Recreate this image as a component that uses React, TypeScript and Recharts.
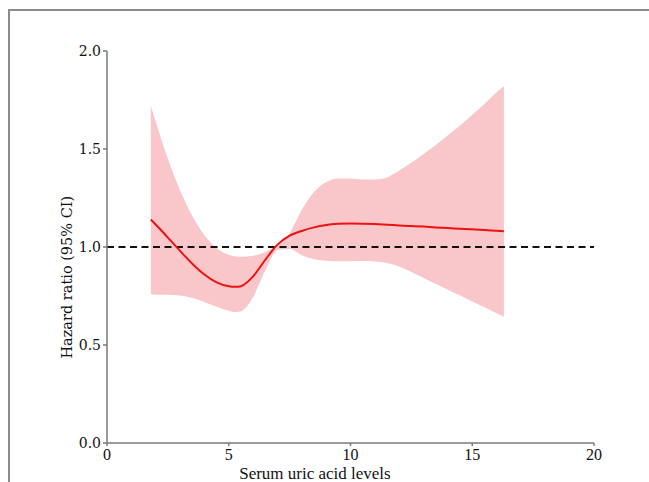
import React from "react";
import { ComposedChart, Area, Line, XAxis, YAxis, ReferenceLine } from "recharts";

const uricAcid = [1.8, 2, 2.5, 3, 3.5, 4, 4.5, 5, 5.3, 5.5, 6, 6.5, 7, 7.5, 8, 8.5, 9, 9.5, 10, 10.5, 11, 11.5, 12, 12.5, 13, 13.5, 14, 14.5, 15, 15.5, 16, 16.3];
const hazardRatio = [1.14, 1.115, 1.048, 0.98, 0.915, 0.86, 0.82, 0.8, 0.797, 0.8, 0.85, 0.935, 1.012, 1.058, 1.082, 1.1, 1.112, 1.118, 1.12, 1.119, 1.117, 1.114, 1.11, 1.107, 1.104, 1.1, 1.097, 1.093, 1.09, 1.087, 1.083, 1.08];
const ciUpper = [1.72, 1.64, 1.45, 1.29, 1.16, 1.06, 0.995, 0.96, 0.952, 0.95, 0.955, 0.975, 1.01, 1.07, 1.19, 1.28, 1.33, 1.35, 1.35, 1.345, 1.345, 1.355, 1.39, 1.43, 1.475, 1.52, 1.57, 1.62, 1.675, 1.73, 1.79, 1.82];
const ciLower = [0.76, 0.757, 0.757, 0.752, 0.74, 0.72, 0.695, 0.675, 0.668, 0.672, 0.745, 0.88, 0.985, 0.99, 0.958, 0.938, 0.93, 0.927, 0.927, 0.928, 0.926, 0.918, 0.9, 0.872, 0.842, 0.812, 0.782, 0.752, 0.722, 0.692, 0.662, 0.644];
const xTicks = [0, 5, 10, 15, 20];
const yTicks = [0, 0.5, 1, 1.5, 2];

const data = uricAcid.map((x, i) => ({
  x,
  hr: hazardRatio[i],
  ci: [ciLower[i], ciUpper[i]],
}));

const axisColor = "#7a7a7a";
const TIMES = "Liberation Serif, Times New Roman, serif";
const DEJAVU = "DejaVu Serif, serif";

const XTitle = (props: any) => {
  const vb = props.viewBox;
  return (
    <text
      x={vb.x + vb.width * 0.427}
      y={vb.y + 36}
      textAnchor="middle"
      style={{ fontFamily: TIMES, fontSize: 17 }}
      fill="#111"
    >
      Serum uric acid levels
    </text>
  );
};

const YTitle = (props: any) => {
  const vb = props.viewBox;
  const cx = 67;
  const cy = vb.y + vb.height * 0.577;
  return (
    <text
      x={cx}
      y={cy}
      transform={`rotate(-90, ${cx}, ${cy})`}
      textAnchor="middle"
      dominantBaseline="central"
      style={{ fontFamily: DEJAVU, fontSize: 14.5 }}
      fill="#111"
    >
      Hazard ratio (95% CI)
    </text>
  );
};

export default function App() {
  return (
    <div style={{ position: "absolute", left: 0, top: 0, width: 649, height: 482, overflow: "hidden", background: "#fff" }}>
      <div
        style={{
          position: "absolute",
          left: 8,
          top: 9,
          width: 800,
          height: 600,
          borderTop: "2px solid #8c8c8c",
          borderLeft: "2px solid #8c8c8c",
        }}
      />
      <div style={{ position: "absolute", left: 0, top: 0 }}>
        <ComposedChart width={649} height={482} data={data} margin={{ top: 51, right: 55, bottom: 9, left: 47 }}>
          <XAxis
            dataKey="x"
            type="number"
            domain={[0, 20]}
            ticks={xTicks}
            allowDataOverflow
            stroke={axisColor}
            strokeWidth={1.5}
            tickSize={3}
            tickMargin={3}
            height={30}
            tick={{ style: { fontFamily: TIMES, fontSize: 16 }, fill: "#111" }}
            label={<XTitle />}
          />
          <YAxis
            type="number"
            domain={[0, 2]}
            ticks={yTicks}
            width={60}
            stroke={axisColor}
            strokeWidth={1.5}
            tickSize={4}
            tickMargin={2}
            tickFormatter={(v: number) => v.toFixed(1)}
            tick={{ style: { fontFamily: DEJAVU, fontSize: 14 }, fill: "#111" }}
            label={<YTitle />}
          />
          <Area
            dataKey="ci"
            type="monotone"
            stroke="none"
            fill="#f9c6c9"
            fillOpacity={1}
            isAnimationActive={false}
          />
          <ReferenceLine y={1} stroke="#111" strokeWidth={2} strokeDasharray="7 4.5" />
          <Line
            dataKey="hr"
            type="monotone"
            stroke="#ee1111"
            strokeWidth={2}
            dot={false}
            isAnimationActive={false}
          />
        </ComposedChart>
      </div>
    </div>
  );
}
